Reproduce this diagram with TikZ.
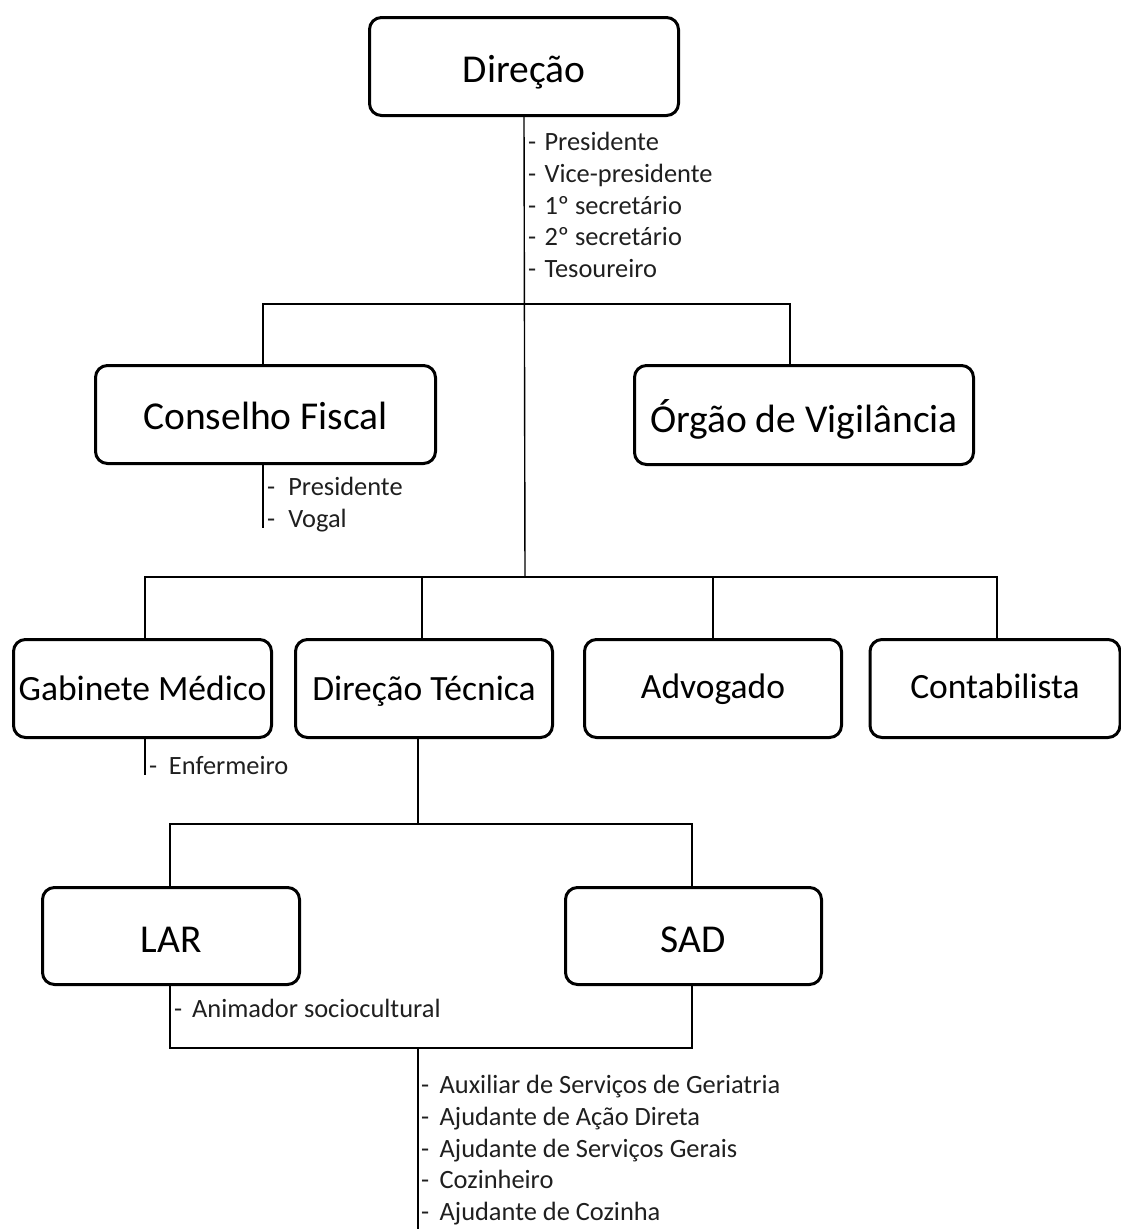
\documentclass[tikz,border=0pt]{standalone}
\usepackage{fontspec}
\setmainfont{Carlito}
\newcommand{\dsh}[1]{\makebox[#1][l]{-}}
\begin{document}
\begin{tikzpicture}[x=1pt,y=-1pt,
  unit/.style={draw=black, line width=3pt, rounded corners=12pt, inner sep=0pt, align=center, text depth=0pt},
  big/.style={unit, font=\fontsize{39.5}{44}\selectfont, text height=32pt},
  mid/.style={unit, font=\fontsize{35.5}{40}\selectfont, text height=21pt},
  conn/.style={draw=black, line width=1.4pt},
  roles/.style={inner sep=0pt, anchor=north west, align=left, font=\fontsize{26.4}{31.75}\selectfont, text=black!88}]
\useasboundingbox (0,0) rectangle (1121,1229);

% boxes
\node[big, minimum width=309pt, minimum height=98pt] (dir) at (524,66.5) {Direção};
\node[big, minimum width=340pt, minimum height=98pt, text height=30pt] (cf) at (265.5,414.5) {Conselho Fiscal};
\node[big, minimum width=339pt, minimum height=99pt, text height=35pt] (og) at (804,415) {Órgão de Vigilância};
\node[mid, minimum width=258pt, minimum height=98pt, text height=23pt] (gm) at (142.5,688.5) {Gabinete Médico};
\node[mid, minimum width=257pt, minimum height=98pt, text height=23pt] (dt) at (424,688.5) {Direção Técnica};
\node[mid, minimum width=257pt, minimum height=98pt, text height=19pt] (ad) at (713,688.5) {Advogado};
\node[mid, minimum width=250pt, minimum height=98pt, text height=19pt] (cb) at (995,688.5) {Contabilista};
\node[big, minimum width=257pt, minimum height=97pt] (lar) at (171,936) {LAR};
\node[big, minimum width=256pt, minimum height=97pt] (sad) at (693.5,936) {SAD};

% junction coordinates
\coordinate (h1) at (525,304);
\coordinate (h2) at (525,577);
\coordinate (h3) at (418,824);
\coordinate (h4) at (418,1048);
\coordinate (bottom) at (418,1229);
\coordinate (cfend) at (263,528);
\coordinate (gmend) at (145,775);

% connectors
\draw[conn] (dir.south) -- (h2);
\draw[conn] ([xshift=-2.5pt]cf.north) |- (h1) -| ([xshift=-14pt]og.north);
\draw[conn] ([xshift=2.5pt]gm.north) |- (h2) -| ([xshift=2pt]cb.north);
\draw[conn] ([xshift=-2pt]dt.north) -- ([xshift=-2pt]dt.north |- h2);
\draw[conn] (ad.north) -- (ad.north |- h2);
\draw[conn] ([xshift=-2.5pt]cf.south) -- (cfend);
\draw[conn] ([xshift=2.5pt]gm.south) -- (gmend);
\draw[conn] ([xshift=-6pt]dt.south) -- (h3);
\draw[conn] ([xshift=-1pt]lar.north) |- (h3) -| ([xshift=-1.5pt]sad.north);
\draw[conn] ([xshift=-1pt]lar.south) |- (h4) -| ([xshift=-1.5pt]sad.south);
\draw[conn] (h4) -- (bottom);

% role lists
\node[roles] (dirlist) at (528,132) {\dsh{0.62em}Presidente\\\dsh{0.62em}Vice-presidente\\\dsh{0.62em}1º secretário\\\dsh{0.62em}2º secretário\\\dsh{0.62em}Tesoureiro};
\node[roles] (cflist) at (267,477) {\dsh{0.8em}Presidente\\\dsh{0.8em}Vogal};
\node[roles] (gmlist) at (149,756) {\dsh{0.75em}Enfermeiro};
\node[roles] (larlist) at (174,999) {\dsh{0.68em}Animador sociocultural};
\node[roles] (staff) at (421,1075) {\dsh{0.7em}Auxiliar de Serviços de Geriatria\\\dsh{0.7em}Ajudante de Ação Direta\\\dsh{0.7em}Ajudante de Serviços Gerais\\\dsh{0.7em}Cozinheiro\\\dsh{0.7em}Ajudante de Cozinha};
\end{tikzpicture}
\end{document}
